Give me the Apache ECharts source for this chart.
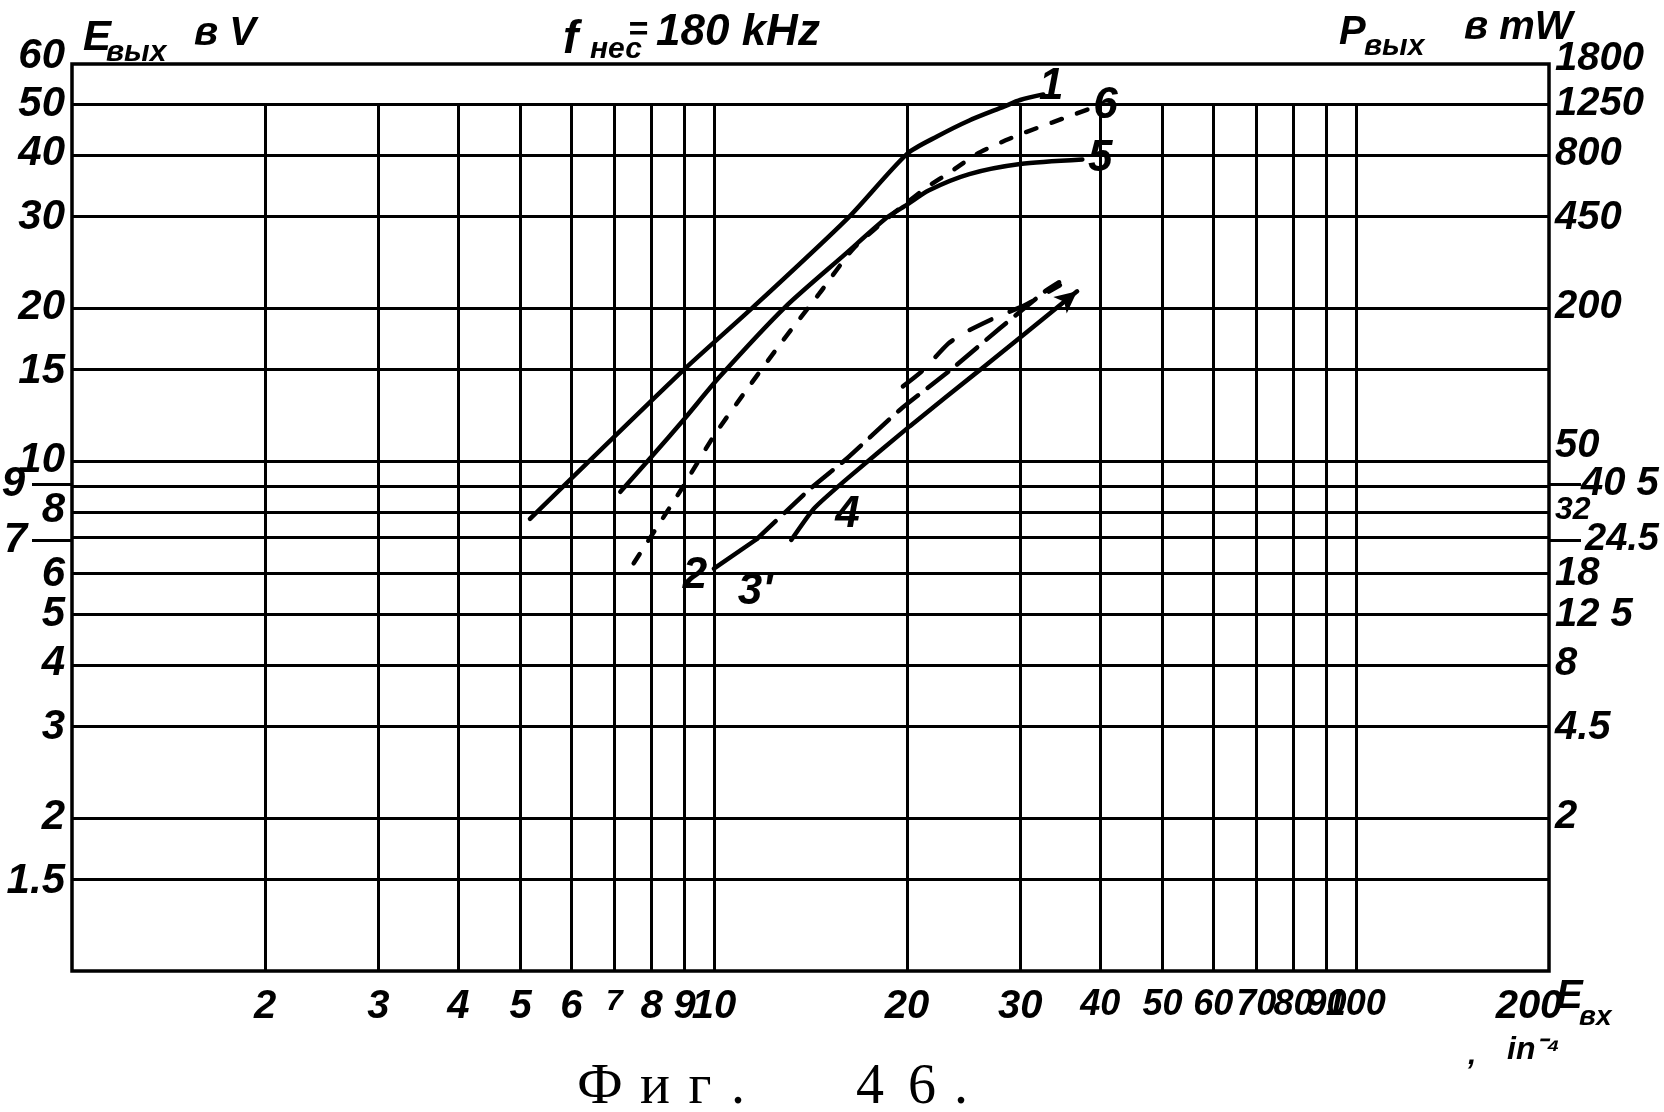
<!DOCTYPE html>
<html>
<head>
<meta charset="utf-8">
<title>Фиг. 46</title>
<script src="https://cdn.jsdelivr.net/npm/echarts@6.0.0/dist/echarts.min.js"></script>
<style>
html, body { margin: 0; padding: 0; background: #fff; }
#chart { width: 1664px; height: 1112px; }
</style>
</head>
<body>
<div id="chart"></div>
<script>
// ---------------- data ----------------
const yTicks = [1.5, 2, 3, 4, 5, 6, 7, 8, 9, 10, 15, 20, 30, 40, 50, 60];
const yTickLabels = ['1.5', '2', '3', '4', '5', '6', '7', '8', '9', '10', '15', '20', '30', '40', '50', '60'];
const pTicks = [2, 3, 4, 5, 6, 7, 8, 9, 10, 20, 30, 40, 50, 60];
const pTickLabels = ['2', '4.5', '8', '12 5', '18', '24.5', '32', '40 5', '50', '200', '450', '800', '1250', '1800'];
const xTicks = [2, 3, 4, 5, 6, 7, 8, 9, 10, 20, 30, 40, 50, 60, 70, 80, 90, 100, 200];
const xTickLabels = ['2', '3', '4', '5', '6', '7', '8', '9', '10', '20', '30', '40', '50', '60', '70', '80', '90', '100', '200'];

const curve1X = [5.17, 8.93, 11.5, 16.2, 20.0, 22.3, 25.0, 28.3, 30.0, 32.6];
const curve1Y = [7.7, 15.0, 20.0, 30.0, 40.0, 43.3, 46.5, 49.5, 51.0, 52.3];
const curve5X = [7.15, 8.0, 9.0, 10.2, 12.9, 16.0, 18.6, 20.0, 21.6, 25.0, 30.0, 37.5];
const curve5Y = [8.7, 10.2, 12.1, 14.6, 20.0, 25.4, 30.0, 31.8, 33.9, 36.5, 38.2, 39.0];
const curve6X = [7.5, 8.9, 10.0, 11.3, 12.8, 14.6, 16.5, 19.0, 21.4, 23.4, 25.7, 28.1, 30.6, 33.7, 38.6];
const curve6Y = [6.3, 8.8, 11.2, 13.9, 17.2, 21.3, 26.1, 30.5, 34.3, 36.9, 40.0, 42.2, 44.1, 46.1, 49.1];
const curve2X = [10.0, 11.67, 14.1, 16.1, 19.5, 23.4, 27.9, 32.8, 34.5];
const curve2Y = [6.15, 7.03, 8.8, 10.1, 12.6, 15.1, 18.2, 21.5, 22.4];
const curve3X = [13.2, 14.3, 16.1, 20.2, 26.0, 36.8];
const curve3Y = [7.0, 8.05, 9.21, 11.7, 15.1, 21.5];
const curve4X = [19.7, 21.1, 23.2, 24.7, 27.7, 30.5, 34.6];
const curve4Y = [14.0, 15.0, 17.0, 17.9, 19.2, 20.2, 22.1];

// ---------------- helpers ----------------
const lg = v => Math.log10(v);
const toPts = (xs, ys) => xs.map((x, i) => [lg(x), lg(ys[i])]);
const nearest = (ticks, v) => {
  let b = 0, d = Infinity;
  ticks.forEach((t, i) => { const e = Math.abs(lg(t) - v); if (e < d) { d = e; b = i; } });
  return b;
};
const HAND = "'Liberation Sans', Arial, sans-serif";
const SERIF = "'Liberation Serif', 'DejaVu Serif', serif";
const hand = size => ({ fontFamily: HAND, fontStyle: 'italic', fontWeight: 'bold', fontSize: size, color: '#000' });
const BLK = '#000';
const GRID_W = 3;
const CURVE_W = 4.5;
const yMax = lg(60), xMax = lg(200);

function txt(text, x, y, size, extra) {
  return {
    type: 'text', x: x, y: y, silent: true, z: 20,
    style: Object.assign({
      text: text, fill: BLK, fontFamily: HAND, fontStyle: 'italic', fontWeight: 'bold',
      fontSize: size, align: 'left', verticalAlign: 'middle'
    }, extra || {})
  };
}

function tagData(text, xs, ys, i, offset) {
  return {
    coord: [lg(xs[i]), lg(ys[i])], symbolSize: 0,
    label: Object.assign({ show: true, formatter: text, offset: offset, position: 'inside' }, hand(44))
  };
}

function curve(name, xs, ys, lineType, smooth, markData) {
  const s = {
    name: name, type: 'line', data: toPts(xs, ys), smooth: smooth,
    symbol: 'none', z: 10, silent: true,
    lineStyle: { color: BLK, width: CURVE_W, type: lineType || 'solid', cap: 'round' }
  };
  if (markData) {
    s.markPoint = { silent: true, symbol: 'circle', symbolSize: 0, itemStyle: { color: BLK }, data: markData };
  }
  return s;
}

// gridlines through the library scales
const hLines = yTicks.filter(t => t < 60).map(t => ({ yAxis: lg(t) }));
const vLines = xTicks.filter(t => t < 200).map(t => [{ coord: [lg(t), 0] }, { coord: [lg(t), lg(50)] }]);

const chart = echarts.init(document.getElementById('chart'), null, { renderer: 'canvas' });

const option = {
  animation: false,
  backgroundColor: '#fff',
  grid: {
    left: 72, right: 115, top: 64, bottom: 141,
    containLabel: false, outerBoundsMode: 'none',
    show: true, borderColor: BLK, borderWidth: 3.5, backgroundColor: 'transparent'
  },
  xAxis: {
    type: 'value', min: 0, max: xMax,
    axisLine: { show: false }, axisTick: { show: false }, splitLine: { show: false },
    axisLabel: Object.assign({
      customValues: xTicks.map(lg), margin: 16,
      formatter: v => {
        const s = xTickLabels[nearest(xTicks, v)];
        if (s === '200') return '{r|200}';
        if (s === '7') return '{s|7}';
        if (['60', '70', '80', '90', '100', '40', '50'].indexOf(s) >= 0) return '{n|' + s + '}';
        return s;
      },
      rich: {
        r: Object.assign({ padding: [0, 40, 0, 0] }, hand(40)),
        s: Object.assign({ padding: [0, 0, 12, 0] }, hand(30)),
        n: hand(36)
      }
    }, hand(40))
  },
  yAxis: [
    {
      type: 'value', min: 0, max: yMax, position: 'left',
      axisLine: { show: false }, axisTick: { show: false }, splitLine: { show: false },
      axisLabel: Object.assign({
        customValues: yTicks.map(lg), margin: 7,
        formatter: v => {
          const s = yTickLabels[nearest(yTicks, v)];
          if (s === '9') return '{f9|9}';
          if (s === '7') return '{f7|7}';
          if (s === '60') return '{up|60}';
          return s;
        },
        rich: {
          f9: Object.assign({ padding: [0, 40, 0, 0] }, hand(42)),
          f7: Object.assign({ padding: [0, 38, 0, 0] }, hand(42)),
          up: Object.assign({ padding: [0, 0, 16, 0] }, hand(42))
        }
      }, hand(42))
    },
    {
      type: 'value', min: 0, max: yMax, position: 'right',
      axisLine: { show: false }, axisTick: { show: false }, splitLine: { show: false },
      axisLabel: Object.assign({
        customValues: pTicks.map(lg), margin: 6,
        formatter: v => {
          const s = pTickLabels[nearest(pTicks, v)];
          if (s === '40 5') return '{e1|40 5}';
          if (s === '24.5') return '{e2|24.5}';
          if (s === '50') return '{u1|50}';
          if (s === '1800') return '{u2|1800}';
          if (s === '32') return '{sm|32}';
          return s;
        },
        rich: {
          e1: Object.assign({ padding: [0, 0, 0, 26] }, hand(40)),
          e2: Object.assign({ padding: [0, 0, 0, 30] }, hand(38)),
          u1: Object.assign({ padding: [0, 0, 30, 0] }, hand(40)),
          u2: Object.assign({ padding: [0, 0, 10, 0] }, hand(40)),
          sm: hand(32)
        }
      }, hand(40))
    },
    {
      type: 'value', min: 0, max: yMax, position: 'left',
      axisLine: { show: false }, splitLine: { show: false }, axisLabel: { show: false },
      axisTick: { show: true, customValues: [lg(9), lg(7)], length: 40, lineStyle: { color: BLK, width: GRID_W } }
    },
    {
      type: 'value', min: 0, max: yMax, position: 'right',
      axisLine: { show: false }, splitLine: { show: false }, axisLabel: { show: false },
      axisTick: { show: true, customValues: [lg(9), lg(7)], length: 32, lineStyle: { color: BLK, width: GRID_W } }
    }
  ],
  series: [
    {
      name: 'grid', type: 'line', data: [], silent: true, z: 1,
      markLine: {
        silent: true, symbol: ['none', 'none'], animation: false,
        label: { show: false }, emphasis: { disabled: true },
        lineStyle: { color: BLK, width: GRID_W, type: 'solid' },
        data: hLines.concat(vLines)
      }
    },
    curve('1', curve1X, curve1Y, 'solid', 0.25, [tagData('1', curve1X, curve1Y, curve1X.length - 1, [8, -8])]),
    curve('5', curve5X, curve5Y, 'solid', 0.25, [tagData('5', curve5X, curve5Y, curve5X.length - 1, [18, -1])]),
    curve('6', curve6X, curve6Y, [11, 16], 0.2, [tagData('6', curve6X, curve6Y, curve6X.length - 1, [15, -3])]),
    curve('2a', curve2X.slice(0, 2), curve2Y.slice(0, 2), 'solid', false, [tagData('2', curve2X, curve2Y, 0, [-19, 7])]),
    curve('2', curve2X.slice(1), curve2Y.slice(1), [26, 12], 0.15),
    curve('3', curve3X, curve3Y, 'solid', 0.15, [
      tagData("3'", curve3X, curve3Y, 0, [-36, 52]),
      tagData('4', curve3X, curve3Y, 1, [34, 6]),
      {
        coord: [lg(curve3X[curve3X.length - 1]), lg(curve3Y[curve3Y.length - 1])],
        symbol: 'arrow', symbolSize: [16, 22], symbolRotate: -51,
        itemStyle: { color: BLK }, label: { show: false }
      }
    ]),
    curve('4', curve4X, curve4Y, [24, 20], 0.2)
  ],
  graphic: [
    txt('E', 83, 38, 42),
    txt('вых', 106, 53, 30),
    txt('в V', 194, 34, 40),
    txt('f', 563, 40, 46),
    txt('нес', 590, 50, 30),
    txt('=', 628, 31, 34),
    txt('180 kHz', 656, 33, 44),
    txt('P', 1339, 33, 40),
    txt('вых', 1364, 47, 30),
    txt('в mW', 1464, 28, 40),
    txt('E', 1556, 997, 40),
    txt('вх', 1579, 1017, 28),
    txt(',', 1468, 1056, 30),
    txt('in⁻⁴', 1507, 1050, 32),
    {
      type: 'text', x: 570, y: 1088, silent: true, z: 20,
      style: {
        text: '{a|Ф}{b|и}{c|г}{d|.}{e| }{f|4}{g|6}{h|.}',
        fill: BLK, fontFamily: SERIF, fontSize: 56, align: 'left', verticalAlign: 'middle',
        rich: {
          a: { width: 60, align: 'center', fontFamily: SERIF, fontSize: 58 },
          b: { width: 50, align: 'center', fontFamily: SERIF, fontSize: 56 },
          c: { width: 40, align: 'center', fontFamily: SERIF, fontSize: 56 },
          d: { width: 36, align: 'center', fontFamily: SERIF, fontSize: 56 },
          e: { width: 86, align: 'center', fontFamily: SERIF, fontSize: 56 },
          f: { width: 56, align: 'center', fontFamily: SERIF, fontSize: 56 },
          g: { width: 48, align: 'center', fontFamily: SERIF, fontSize: 56 },
          h: { width: 30, align: 'center', fontFamily: SERIF, fontSize: 56 }
        }
      }
    }
  ]
};

chart.setOption(option);
</script>
</body>
</html>
